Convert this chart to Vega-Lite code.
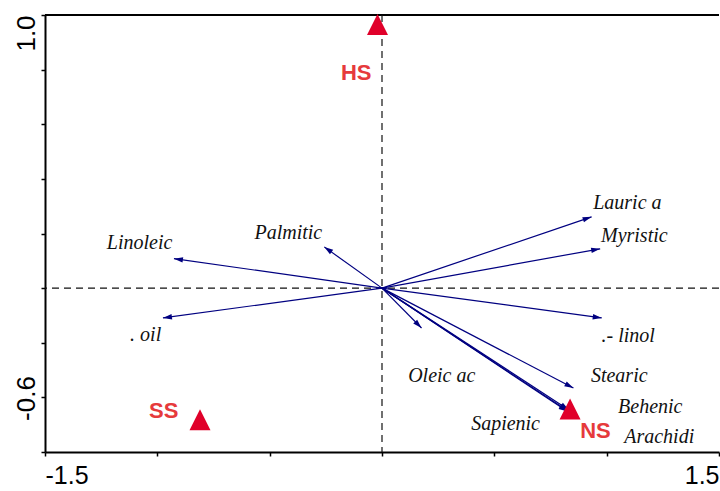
{
  "$schema": "https://vega.github.io/schema/vega-lite/v6.json",
  "width": 674,
  "height": 437,
  "autosize": {"type": "none"},
  "padding": {"left": 45, "top": 15, "right": 1, "bottom": 39},
  "background": "white",
  "config": {
    "view": {"stroke": null},
    "axis": {"title": null, "grid": false}
  },
  "datasets": {
    "arrows": [
      {"name": "Lauric a", "x": 0.933, "y": 0.261, "lx": 1.092, "ly": 0.311},
      {"name": "Myristic", "x": 0.971, "y": 0.144, "lx": 1.123, "ly": 0.192},
      {"name": ".- linol", "x": 0.978, "y": -0.109, "lx": 1.096, "ly": -0.174},
      {"name": "Oleic ac", "x": 0.176, "y": -0.146, "lx": 0.266, "ly": -0.321},
      {"name": "Stearic", "x": 0.852, "y": -0.366, "lx": 1.056, "ly": -0.321},
      {"name": "Sapienic", "x": 0.828, "y": -0.45, "lx": 0.55, "ly": -0.496},
      {"name": "Behenic", "x": 0.832, "y": -0.446, "lx": 1.194, "ly": -0.434},
      {"name": "Arachidi", "x": 0.826, "y": -0.452, "lx": 1.234, "ly": -0.544},
      {"name": "Linoleic", "x": -0.926, "y": 0.108, "lx": -1.079, "ly": 0.167},
      {"name": ". oil", "x": -0.975, "y": -0.109, "lx": -1.052, "ly": -0.17},
      {"name": "Palmitic", "x": -0.257, "y": 0.151, "lx": -0.417, "ly": 0.203}
    ],
    "sites": [
      {"name": "HS", "x": -0.02, "y": 0.965, "lx": -0.115, "ly": 0.788},
      {"name": "SS", "x": -0.81, "y": -0.482, "lx": -0.972, "ly": -0.449},
      {"name": "NS", "x": 0.837, "y": -0.443, "lx": 0.95, "ly": -0.522}
    ]
  },
  "layer": [
    {
      "data": {"values": [{"y": 1.0}]},
      "mark": {"type": "rule", "color": "black", "strokeWidth": 2},
      "encoding": {"y": {"field": "y", "type": "quantitative"}}
    },
    {
      "data": {"values": [{"x": 0}]},
      "mark": {"type": "rule", "strokeDash": [7, 5], "color": "#111111", "strokeWidth": 1.2},
      "encoding": {"x": {"field": "x", "type": "quantitative"}}
    },
    {
      "data": {"values": [{"y": 0}]},
      "mark": {"type": "rule", "strokeDash": [7, 5], "color": "#111111", "strokeWidth": 1.2},
      "encoding": {"y": {"field": "y", "type": "quantitative"}}
    },
    {
      "data": {"name": "arrows"},
      "mark": {"type": "rule", "color": "#000080", "strokeWidth": 1.2},
      "encoding": {
        "x": {
          "field": "x", "type": "quantitative",
          "scale": {"domain": [-1.5, 1.5], "nice": false, "zero": false},
          "axis": {
            "title": null,
            "values": [-1.5, -1, -0.5, 0, 0.5, 1, 1.5],
            "labelExpr": "datum.value < -1.4 ? '-1.5' : (datum.value > 1.4 ? '1.5' : '')",
            "labelFlush": true,
            "labelOverlap": false,
            "tickSize": 4,
            "tickWidth": 1.5,
            "tickColor": "black",
            "domainColor": "black",
            "domainWidth": 2,
            "labelFont": "Liberation Sans",
            "labelFontSize": 25,
            "labelColor": "black",
            "labelPadding": 7
          }
        },
        "y": {
          "field": "y", "type": "quantitative",
          "scale": {"domain": [-0.6, 1.0], "nice": false, "zero": false},
          "axis": {
            "title": null,
            "values": [-0.6, -0.4, -0.2, 0, 0.2, 0.4, 0.6, 0.8, 1.0],
            "labelExpr": "datum.value > 0.9 ? '1.0' : (datum.value < -0.5 ? '-0.6' : '')",
            "labelAngle": -90,
            "labelAlign": "center",
            "labelBaseline": "alphabetic",
            "labelOffset": {"condition": {"test": "datum.value > 0.9", "value": 18}, "value": -54},
            "labelOverlap": false,
            "labelFlush": false,
            "labelBound": false,
            "tickSize": 4,
            "tickWidth": 1.5,
            "tickColor": "black",
            "domainColor": "black",
            "domainWidth": 2,
            "labelFont": "Liberation Sans",
            "labelFontSize": 26,
            "labelColor": "black",
            "labelPadding": 7
          }
        },
        "x2": {"datum": 0},
        "y2": {"datum": 0}
      }
    },
    {
      "data": {"name": "arrows"},
      "mark": {
        "type": "point",
        "filled": true,
        "color": "#000080",
        "opacity": 1,
        "size": 100,
        "shape": "M0,0L-0.55,1.8L0.55,1.8Z",
        "angle": {"expr": "atan2(datum.x * 224.7, datum.y * 273) * 180 / PI"}
      },
      "encoding": {
        "x": {"field": "x", "type": "quantitative"},
        "y": {"field": "y", "type": "quantitative"}
      }
    },
    {
      "data": {"name": "arrows"},
      "mark": {"type": "text", "font": "Liberation Serif", "fontStyle": "italic", "fontSize": 20, "color": "#111111", "align": "center", "baseline": "middle"},
      "encoding": {
        "x": {"field": "lx", "type": "quantitative"},
        "y": {"field": "ly", "type": "quantitative"},
        "text": {"field": "name"}
      }
    },
    {
      "data": {"name": "sites"},
      "mark": {"type": "point", "filled": true, "opacity": 1, "color": "#e0002a", "size": 441, "shape": "M0,-1L1,1L-1,1Z"},
      "encoding": {
        "x": {"field": "x", "type": "quantitative"},
        "y": {"field": "y", "type": "quantitative"}
      }
    },
    {
      "data": {"name": "sites"},
      "mark": {"type": "text", "font": "'Liberation Sans Narrow', 'Liberation Sans', sans-serif", "fontWeight": "bold", "fontSize": 22, "color": "#e63a3c", "align": "center", "baseline": "middle"},
      "encoding": {
        "x": {"field": "lx", "type": "quantitative"},
        "y": {"field": "ly", "type": "quantitative"},
        "text": {"field": "name"}
      }
    }
  ]
}
